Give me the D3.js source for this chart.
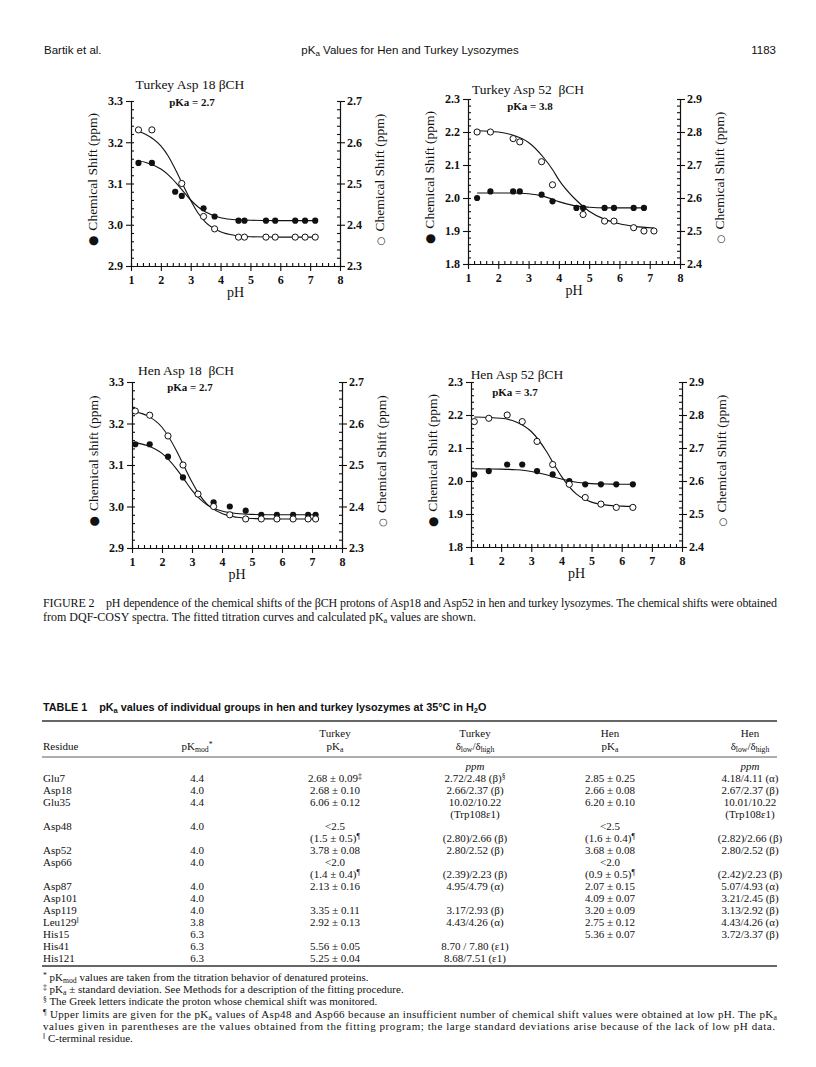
<!DOCTYPE html>
<html>
<head>
<meta charset="utf-8">
<script src="https://cdn.jsdelivr.net/npm/d3@7"></script>
<style>
  body { margin: 0; background: #fff; }
  svg { display: block; }
  text { font-family: "Liberation Serif", "Times New Roman", serif; fill: #111; white-space: pre; }
  .sans { font-family: "Liberation Sans", Arial, sans-serif; }
  .axis path, .axis line { stroke: #111; stroke-width: 1.1; }
</style>
</head>
<body>
<svg id="page" width="816" height="1067"></svg>
<script>
// ---- figure data ----
const phTicks = [1, 2, 3, 4, 5, 6, 7, 8];

// Turkey Asp 18
const tk18LeftTicks = [2.9, 3.0, 3.1, 3.2, 3.3];
const tk18RightTicks = [2.3, 2.4, 2.5, 2.6, 2.7];
const tk18FilledPh = [1.25, 1.70, 2.48, 2.70, 3.43, 3.80, 4.60, 4.80, 5.52, 5.83, 6.50, 6.83, 7.17];
const tk18Filled = [3.15, 3.15, 3.08, 3.07, 3.04, 3.02, 3.01, 3.01, 3.01, 3.01, 3.01, 3.01, 3.01];
const tk18OpenPh = [1.25, 1.70, 2.70, 3.43, 3.80, 4.60, 4.80, 5.52, 5.83, 6.50, 6.83, 7.17];
const tk18Open = [2.63, 2.63, 2.50, 2.42, 2.39, 2.37, 2.37, 2.37, 2.37, 2.37, 2.37, 2.37];
const tk18FitPh = [1.25, 1.5, 2, 2.25, 2.5, 2.75, 3, 3.25, 3.5, 4, 4.5, 5, 6, 7.17];
const tk18FitFilled = [3.155, 3.151, 3.135, 3.121, 3.102, 3.081, 3.060, 3.043, 3.031, 3.017, 3.012, 3.011, 3.010, 3.010];
const tk18FitOpen = [2.626, 2.619, 2.591, 2.566, 2.532, 2.495, 2.459, 2.428, 2.406, 2.383, 2.374, 2.371, 2.370, 2.370];

// Turkey Asp 52
const tk52LeftTicks = [1.8, 1.9, 2.0, 2.1, 2.2, 2.3];
const tk52RightTicks = [2.4, 2.5, 2.6, 2.7, 2.8, 2.9];
const tk52FilledPh = [1.30, 1.74, 2.49, 2.71, 3.43, 3.79, 4.58, 4.80, 5.51, 5.82, 6.47, 6.81];
const tk52Filled = [2.00, 2.02, 2.02, 2.02, 2.01, 1.99, 1.97, 1.97, 1.97, 1.97, 1.97, 1.97];
const tk52OpenPh = [1.30, 1.74, 2.49, 2.71, 3.43, 3.79, 4.80, 5.51, 5.82, 6.47, 6.81, 7.14];
const tk52Open = [2.80, 2.80, 2.78, 2.77, 2.71, 2.64, 2.55, 2.53, 2.53, 2.51, 2.50, 2.50];
const tk52FitFilledPh = [1.3, 2, 2.5, 3, 3.5, 3.8, 4, 4.5, 5, 5.5, 6, 6.81];
const tk52FitFilled = [2.015, 2.015, 2.015, 2.013, 2.005, 1.996, 1.989, 1.977, 1.972, 1.970, 1.970, 1.970];
const tk52FitOpenPh = [1.3, 2, 2.5, 3, 3.5, 3.8, 4, 4.5, 5, 5.5, 6, 6.5, 7.14];
const tk52FitOpen = [2.804, 2.800, 2.790, 2.768, 2.722, 2.685, 2.655, 2.600, 2.560, 2.536, 2.522, 2.514, 2.509];

// Hen Asp 18
const hn18Ph = [1.11, 1.59, 2.20, 2.70, 3.20, 3.72, 4.26, 4.79, 5.31, 5.83, 6.37, 6.87, 7.12];
const hn18Filled = [3.15, 3.15, 3.12, 3.07, 3.03, 3.01, 3.00, 2.99, 2.98, 2.98, 2.98, 2.98, 2.98];
const hn18Open = [2.63, 2.62, 2.57, 2.50, 2.43, 2.40, 2.38, 2.37, 2.37, 2.37, 2.37, 2.37, 2.37];
const hn18FitPh = [1.11, 1.5, 2, 2.5, 2.75, 3, 3.25, 3.5, 4, 4.5, 5, 6, 7.12];
const hn18FitFilled = [3.154, 3.147, 3.128, 3.089, 3.064, 3.039, 3.019, 3.004, 2.989, 2.983, 2.981, 2.980, 2.980];
const hn18FitOpen = [2.628, 2.619, 2.591, 2.532, 2.495, 2.459, 2.428, 2.406, 2.383, 2.374, 2.371, 2.370, 2.370];

// Hen Asp 52
const hn52Ph = [1.11, 1.59, 2.20, 2.70, 3.19, 3.71, 4.26, 4.79, 5.31, 5.82, 6.37];
const hn52Filled = [2.02, 2.03, 2.05, 2.05, 2.03, 2.02, 2.00, 1.99, 1.99, 1.99, 1.99];
const hn52Open = [2.78, 2.79, 2.80, 2.78, 2.72, 2.65, 2.59, 2.55, 2.53, 2.52, 2.52];
const hn52FitPh = [1.11, 2, 2.5, 3, 3.5, 3.75, 4, 4.5, 5, 5.5, 6, 6.37];
const hn52FitFilled = [2.037, 2.036, 2.034, 2.029, 2.019, 2.012, 2.006, 1.996, 1.992, 1.991, 1.990, 1.990];
const hn52FitOpen = [2.794, 2.790, 2.779, 2.750, 2.690, 2.651, 2.614, 2.560, 2.536, 2.527, 2.524, 2.523];

// ---- table data ----
const tableHead1 = ['', '', 'Turkey', 'Turkey', 'Hen', 'Hen'];
const tableHead2 = ['Residue', 'pK_{mod}^{*}', 'pK_{a}', 'δ_{low}/δ_{high}', 'pK_{a}', 'δ_{low}/δ_{high}'];
const tableUnits = ['', '', '', 'ppm', '', 'ppm'];
const tableRows = [
  ['Glu7', '4.4', '2.68 ± 0.09^{‡}', '2.72/2.48 (β)^{§}', '2.85 ± 0.25', '4.18/4.11 (α)'],
  ['Asp18', '4.0', '2.68 ± 0.10', '2.66/2.37 (β)', '2.66 ± 0.08', '2.67/2.37 (β)'],
  ['Glu35', '4.4', '6.06 ± 0.12', '10.02/10.22', '6.20 ± 0.10', '10.01/10.22'],
  ['', '', '', '(Trp108ε1)', '', '(Trp108ε1)'],
  ['Asp48', '4.0', '<2.5', '', '<2.5', ''],
  ['', '', '(1.5 ± 0.5)^{¶}', '(2.80)/2.66 (β)', '(1.6 ± 0.4)^{¶}', '(2.82)/2.66 (β)'],
  ['Asp52', '4.0', '3.78 ± 0.08', '2.80/2.52 (β)', '3.68 ± 0.08', '2.80/2.52 (β)'],
  ['Asp66', '4.0', '<2.0', '', '<2.0', ''],
  ['', '', '(1.4 ± 0.4)^{¶}', '(2.39)/2.23 (β)', '(0.9 ± 0.5)^{¶}', '(2.42)/2.23 (β)'],
  ['Asp87', '4.0', '2.13 ± 0.16', '4.95/4.79 (α)', '2.07 ± 0.15', '5.07/4.93 (α)'],
  ['Asp101', '4.0', '', '', '4.09 ± 0.07', '3.21/2.45 (β)'],
  ['Asp119', '4.0', '3.35 ± 0.11', '3.17/2.93 (β)', '3.20 ± 0.09', '3.13/2.92 (β)'],
  ['Leu129^{‖}', '3.8', '2.92 ± 0.13', '4.43/4.26 (α)', '2.75 ± 0.12', '4.43/4.26 (α)'],
  ['His15', '6.3', '', '', '5.36 ± 0.07', '3.72/3.37 (β)'],
  ['His41', '6.3', '5.56 ± 0.05', '8.70 / 7.80 (ε1)', '', ''],
  ['His121', '6.3', '5.25 ± 0.04', '8.68/7.51 (ε1)', '', '']
];
const tableNotes = [
  '^{*} pK_{mod} values are taken from the titration behavior of denatured proteins.',
  '^{‡} pK_{a} ± standard deviation. See Methods for a description of the fitting procedure.',
  '^{§} The Greek letters indicate the proton whose chemical shift was monitored.',
  '^{¶} Upper limits are given for the pK_{a} values of Asp48 and Asp66 because an insufficient number of chemical shift values were obtained at low pH. The pK_{a}',
  'values given in parentheses are the values obtained from the fitting program; the large standard deviations arise because of the lack of low pH data.',
  '^{‖} C-terminal residue.'
];
const captionLines = [
  'FIGURE 2    pH dependence of the chemical shifts of the βCH protons of Asp18 and Asp52 in hen and turkey lysozymes. The chemical shifts were obtained',
  'from DQF-COSY spectra. The fitted titration curves and calculated pK_{a} values are shown.'
];

const svg = d3.select('#page');
svg.append('rect').attr('width', 816).attr('height', 1067).attr('fill', '#fff');

// writes a string with _{sub} and ^{sup} markers as tspans
function rich(sel, str) {
  const re = /([_^])\{([^}]*)\}/g;
  let last = 0, m;
  while ((m = re.exec(str))) {
    if (m.index > last) sel.append('tspan').text(str.slice(last, m.index));
    sel.append('tspan')
      .attr('font-size', '0.7em')
      .attr('baseline-shift', m[1] === '_' ? '-0.25em' : '0.45em')
      .text(m[2]);
    last = re.lastIndex;
  }
  if (last < str.length) sel.append('tspan').text(str.slice(last));
  return sel;
}

// ---- running head ----
const head = svg.append('g').attr('font-size', 11.5);
head.append('text').attr('class', 'sans').attr('x', 44).attr('y', 54).text('Bartik et al.');
rich(head.append('text').attr('class', 'sans').attr('x', 410).attr('y', 54).attr('text-anchor', 'middle'),
  'pK_{a} Values for Hen and Turkey Lysozymes');
head.append('text').attr('class', 'sans').attr('x', 776).attr('y', 54).attr('text-anchor', 'end').text('1183');

// ---- panels ----
const panels = [
  { box: { x0: 131, x1: 340, y0: 101, y1: 266 }, left: tk18LeftTicks, right: tk18RightTicks,
    title: 'Turkey Asp 18 βCH', titleAt: [190, 89], pka: 'pKa = 2.7', pkaAt: [192, 106],
    leftLabel: 'Chemical Shift (ppm)',
    filled: [tk18FilledPh, tk18Filled], open: [tk18OpenPh, tk18Open],
    fitFilled: [tk18FitPh, tk18FitFilled], fitOpen: [tk18FitPh, tk18FitOpen] },
  { box: { x0: 468, x1: 680, y0: 99, y1: 264 }, left: tk52LeftTicks, right: tk52RightTicks,
    title: 'Turkey Asp 52  βCH', titleAt: [528, 94], pka: 'pKa = 3.8', pkaAt: [530, 110],
    leftLabel: 'Chemical Shift (ppm)',
    filled: [tk52FilledPh, tk52Filled], open: [tk52OpenPh, tk52Open],
    fitFilled: [tk52FitFilledPh, tk52FitFilled], fitOpen: [tk52FitOpenPh, tk52FitOpen] },
  { box: { x0: 132, x1: 342, y0: 382, y1: 548 }, left: tk18LeftTicks, right: tk18RightTicks,
    title: 'Hen Asp 18  βCH', titleAt: [186, 375], pka: 'pKa = 2.7', pkaAt: [190, 391],
    leftLabel: 'Chemical shift (ppm)',
    filled: [hn18Ph, hn18Filled], open: [hn18Ph, hn18Open],
    fitFilled: [hn18FitPh, hn18FitFilled], fitOpen: [hn18FitPh, hn18FitOpen] },
  { box: { x0: 471, x1: 682, y0: 382, y1: 547 }, left: tk52LeftTicks, right: tk52RightTicks,
    title: 'Hen Asp 52 βCH', titleAt: [517, 379], pka: 'pKa = 3.7', pkaAt: [515, 396],
    leftLabel: 'Chemical Shift (ppm)',
    filled: [hn52Ph, hn52Filled], open: [hn52Ph, hn52Open],
    fitFilled: [hn52FitPh, hn52FitFilled], fitOpen: [hn52FitPh, hn52FitOpen] }
];

const zip = (xs, ys) => xs.map((x, i) => [x, ys[i]]);

function drawPanel(p) {
  const { x0, x1, y0, y1 } = p.box;
  const g = svg.append('g');
  const x = d3.scaleLinear().domain([1, 8]).range([x0, x1]);
  const yL = d3.scaleLinear().domain(d3.extent(p.left)).range([y1, y0]);
  const yR = d3.scaleLinear().domain(d3.extent(p.right)).range([y1, y0]);
  const nMinor = (s) => Math.round((s.domain()[1] - s.domain()[0]) / 0.02);

  // minor ticks point inward, majors outward
  g.append('g').attr('class', 'axis').attr('transform', `translate(0,${y1})`)
    .call(d3.axisBottom(x).tickValues(x.ticks(35)).tickSize(-3).tickSizeOuter(0).tickFormat(''));
  g.append('g').attr('class', 'axis').attr('transform', `translate(${x0},0)`)
    .call(d3.axisLeft(yL).tickValues(yL.ticks(nMinor(yL))).tickSize(-3).tickSizeOuter(0).tickFormat(''));
  g.append('g').attr('class', 'axis').attr('transform', `translate(${x1},0)`)
    .call(d3.axisRight(yR).tickValues(yR.ticks(nMinor(yR))).tickSize(-3).tickSizeOuter(0).tickFormat(''));

  const xAx = g.append('g').attr('class', 'axis').attr('transform', `translate(0,${y1})`)
    .call(d3.axisBottom(x).tickValues(phTicks).tickSize(5).tickSizeOuter(0).tickPadding(4).tickFormat(d3.format('d')));
  const lAx = g.append('g').attr('class', 'axis').attr('transform', `translate(${x0},0)`)
    .call(d3.axisLeft(yL).tickValues(p.left).tickSize(5).tickSizeOuter(0).tickPadding(3).tickFormat(d3.format('.1f')));
  const rAx = g.append('g').attr('class', 'axis').attr('transform', `translate(${x1},0)`)
    .call(d3.axisRight(yR).tickValues(p.right).tickSize(5).tickSizeOuter(0).tickPadding(2).tickFormat(d3.format('.1f')));
  [xAx, lAx, rAx].forEach(a => a.selectAll('text')
    .attr('font-family', '"Liberation Serif", serif').attr('font-size', 12).attr('font-weight', 'bold').attr('fill', '#111'));

  // fitted titration curves
  const line = (s) => d3.line().x(d => x(d[0])).y(d => s(d[1])).curve(d3.curveMonotoneX);
  g.append('path').attr('d', line(yL)(zip(...p.fitFilled)))
    .attr('fill', 'none').attr('stroke', '#111').attr('stroke-width', 1.1);
  g.append('path').attr('d', line(yR)(zip(...p.fitOpen)))
    .attr('fill', 'none').attr('stroke', '#111').attr('stroke-width', 1.1);

  g.selectAll('circle.filled').data(zip(...p.filled)).join('circle')
    .attr('class', 'filled').attr('cx', d => x(d[0])).attr('cy', d => yL(d[1])).attr('r', 3.1)
    .attr('fill', '#111');
  g.selectAll('circle.open').data(zip(...p.open)).join('circle')
    .attr('class', 'open').attr('cx', d => x(d[0])).attr('cy', d => yR(d[1])).attr('r', 3.1)
    .attr('fill', '#fff').attr('stroke', '#111').attr('stroke-width', 1);

  // labels
  g.append('text').attr('x', p.titleAt[0]).attr('y', p.titleAt[1]).attr('text-anchor', 'middle')
    .attr('font-size', 13.5).text(p.title);
  g.append('text').attr('x', p.pkaAt[0]).attr('y', p.pkaAt[1]).attr('text-anchor', 'middle')
    .attr('font-size', 11).attr('font-weight', 'bold').text(p.pka);
  g.append('text').attr('x', (x0 + x1) / 2).attr('y', y1 + 31).attr('text-anchor', 'middle')
    .attr('font-size', 14).text('pH');

  const ym = (y0 + y1) / 2 - 4;
  const lt = g.append('text').attr('transform', `translate(${x0 - 34},${ym}) rotate(-90)`)
    .attr('text-anchor', 'middle').attr('font-size', 13.5);
  lt.append('tspan').attr('font-family', '"DejaVu Sans", sans-serif').attr('font-size', 12).text('●');
  lt.append('tspan').attr('dx', 5).text(p.leftLabel);
  const rt = g.append('text').attr('transform', `translate(${x1 + 44},${ym}) rotate(-90)`)
    .attr('text-anchor', 'middle').attr('font-size', 13.5);
  rt.append('tspan').attr('font-family', '"DejaVu Sans", sans-serif').attr('font-size', 10).attr('font-weight', 'bold').text('○');
  rt.append('tspan').attr('dx', 5).text('Chemical Shift (ppm)');
}
panels.forEach(drawPanel);

// ---- caption ----
captionLines.forEach((s, i) => {
  const t = svg.append('text').attr('x', 43).attr('y', 607 + i * 14).attr('font-size', 12);
  if (i === 0) t.attr('textLength', 734).attr('lengthAdjust', 'spacing');
  rich(t, s);
});

// ---- table ----
const colX = [43, 197, 335, 475, 610, 750];
const colAnchor = ['start', 'middle', 'middle', 'middle', 'middle', 'middle'];
const tbl = svg.append('g').attr('font-size', 11);

rich(svg.append('text').attr('class', 'sans').attr('x', 43).attr('y', 711)
  .attr('font-size', 10.8).attr('font-weight', 'bold'),
  'TABLE 1    pK_{a} values of individual groups in hen and turkey lysozymes at 35°C in H_{2}O');

const rules = [{ y: 721, w: 1.6 }, { y: 757, w: 0.8 }, { y: 966, w: 1.4 }];
tbl.selectAll('line.rule').data(rules).join('line').attr('class', 'rule')
  .attr('x1', 42).attr('x2', 777).attr('y1', d => d.y).attr('y2', d => d.y)
  .attr('stroke', '#333').attr('stroke-width', d => d.w);

function tableLine(cells, y, italic) {
  cells.forEach((c, j) => {
    if (!c) return;
    const t = tbl.append('text').attr('x', colX[j]).attr('y', y).attr('text-anchor', colAnchor[j]);
    if (italic) t.attr('font-style', 'italic');
    rich(t, c);
  });
}
tableLine(tableHead1, 737);
tableLine(tableHead2, 750);
tableLine(tableUnits, 770, true);
tableRows.forEach((r, i) => tableLine(r, 782 + i * 12));

// ---- footnotes ----
tableNotes.forEach((s, i) => {
  const t = svg.append('text').attr('x', 43).attr('y', 981 + i * 12.2).attr('font-size', 11);
  if (i === 3) t.attr('textLength', 734).attr('lengthAdjust', 'spacing');
  if (i === 4) t.attr('textLength', 732).attr('lengthAdjust', 'spacing');
  rich(t, s);
});
</script>
</body>
</html>
